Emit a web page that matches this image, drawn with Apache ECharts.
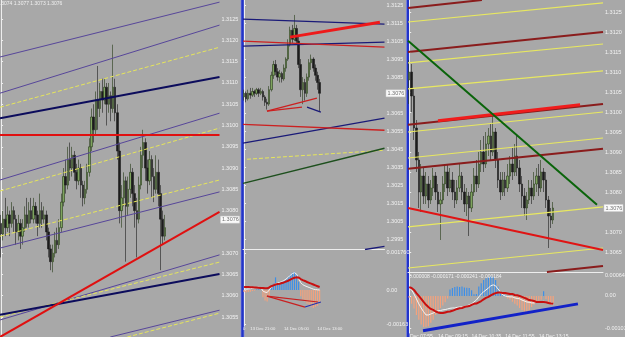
<!DOCTYPE html>
<html><head><meta charset="utf-8">
<script src="https://cdn.jsdelivr.net/npm/echarts@6/dist/echarts.min.js"></script>
<style>html,body{margin:0;padding:0;background:#a8a8a8;}#c{width:625px;height:337px;}</style>
</head><body><div id="c"></div>
<script>
// ---------- Panel 1 (left) ----------
const p1Header = '1.3074 1.3077 1.3073 1.3076';
const p1Candles = [ // [open, close, low, high]
[1.30770,1.30745,1.30690,1.30790],[1.30745,1.30780,1.30730,1.30800],[1.30780,1.30760,1.30740,1.30830],[1.30760,1.30790,1.30750,1.30810],
[1.30790,1.30770,1.30740,1.30800],[1.30770,1.30800,1.30760,1.30820],[1.30800,1.30780,1.30750,1.30810],[1.30780,1.30750,1.30720,1.30790],
[1.30750,1.30770,1.30730,1.30790],[1.30770,1.30740,1.30710,1.30780],[1.30740,1.30760,1.30720,1.30780],[1.30760,1.30790,1.30750,1.30810],
[1.30790,1.30770,1.30760,1.30830],[1.30770,1.30800,1.30760,1.30820],[1.30800,1.30780,1.30770,1.30830],[1.30780,1.30810,1.30770,1.30830],
[1.30810,1.30790,1.30770,1.30820],[1.30790,1.30770,1.30740,1.30800],[1.30770,1.30800,1.30760,1.30840],[1.30800,1.30780,1.30760,1.30820],
[1.30780,1.30790,1.30770,1.30810],[1.30790,1.30750,1.30730,1.30800],[1.30750,1.30710,1.30690,1.30760],[1.30710,1.30680,1.30660,1.30720],
[1.30680,1.30700,1.30655,1.30720],[1.30700,1.30730,1.30690,1.30750],[1.30730,1.30720,1.30700,1.30760],[1.30720,1.30760,1.30710,1.30780],
[1.30760,1.30820,1.30750,1.30840],[1.30820,1.30880,1.30810,1.30900],[1.30880,1.30860,1.30840,1.30920],[1.30860,1.30920,1.30850,1.30950],
[1.30920,1.30900,1.30870,1.30960],[1.30900,1.30930,1.30880,1.30950],[1.30930,1.30890,1.30870,1.30940],[1.30890,1.30870,1.30850,1.30910],
[1.30870,1.30900,1.30860,1.30920],[1.30900,1.30860,1.30830,1.30910],[1.30860,1.30830,1.30810,1.30870],[1.30830,1.30850,1.30815,1.30870],
[1.30850,1.30890,1.30840,1.30910],[1.30890,1.30950,1.30880,1.30970],[1.30950,1.31020,1.30940,1.31040],[1.31020,1.30990,1.30960,1.31050],
[1.30990,1.31060,1.30980,1.31080],[1.31060,1.31040,1.30990,1.31140],[1.31040,1.31080,1.31020,1.31100],[1.31080,1.31060,1.31030,1.31110],
[1.31060,1.31090,1.31050,1.31110],[1.31090,1.31050,1.31000,1.31100],[1.31050,1.31070,1.31030,1.31100],[1.31070,1.31040,1.31010,1.31080],
[1.31040,1.31090,1.31030,1.31190],[1.31090,1.31030,1.31010,1.31110],[1.31030,1.30940,1.30920,1.31050],[1.30940,1.30800,1.30770,1.30960],
[1.30800,1.30830,1.30760,1.30860],[1.30830,1.30870,1.30810,1.30890],[1.30870,1.30810,1.30680,1.30880],[1.30810,1.30850,1.30790,1.30880],
[1.30850,1.30890,1.30830,1.30910],[1.30890,1.30840,1.30810,1.30900],[1.30840,1.30800,1.30760,1.30860],[1.30800,1.30780,1.30690,1.30830],
[1.30780,1.30860,1.30770,1.30880],[1.30860,1.30930,1.30850,1.30950],[1.30930,1.30960,1.30900,1.30990],[1.30960,1.30900,1.30870,1.30970],
[1.30900,1.30870,1.30840,1.30920],[1.30870,1.30920,1.30860,1.30940],[1.30920,1.30880,1.30830,1.30930],[1.30880,1.30850,1.30820,1.30900],
[1.30850,1.30890,1.30840,1.30930],[1.30890,1.30840,1.30810,1.30920],[1.30840,1.30780,1.30660,1.30860],[1.30780,1.30740,1.30720,1.30800],
[1.30740,1.30760,1.30730,1.30790]];
const p1PriceTicks = [1.3125,1.3120,1.3115,1.3110,1.3105,1.3100,1.3095,1.3090,1.3085,1.3080,1.3070,1.3065,1.3060,1.3055];
const p1PurpleLines = [[-0.5,1.31161,101.4,1.31290],[-0.5,1.31076,101.4,1.31236],[-0.5,1.30872,101.4,1.31029],[-0.5,1.30712,101.4,1.30844],[-0.5,1.30543,101.4,1.30696],[50.7,1.30503,101.4,1.30566]];
const p1YellowLines = [[-0.5,1.31043,101.4,1.31184],[-0.5,1.30846,101.4,1.30994],[-0.5,1.30740,101.4,1.30872],[-0.5,1.30550,101.4,1.30679],[58.6,1.30503,101.4,1.30559]];
const p1NavyLines = [[-0.5,1.31017,101.4,1.31114],[-0.5,1.30555,101.4,1.30651]];
const p1RedLines = [[-0.5,1.30978,101.4,1.30978],[-0.5,1.30503,101.4,1.30797]];

// ---------- Panel 2 (middle) ----------
const p2Candles = [
[1.30740,1.30760,1.30720,1.30780],[1.30760,1.30730,1.30710,1.30770],[1.30730,1.30760,1.30720,1.30780],[1.30760,1.30750,1.30730,1.30790],
[1.30750,1.30770,1.30740,1.30790],[1.30770,1.30760,1.30740,1.30780],[1.30760,1.30780,1.30750,1.30790],[1.30780,1.30760,1.30740,1.30790],
[1.30760,1.30770,1.30750,1.30790],[1.30770,1.30740,1.30720,1.30780],[1.30740,1.30710,1.30690,1.30750],[1.30710,1.30700,1.30670,1.30730],
[1.30700,1.30780,1.30690,1.30800],[1.30780,1.30860,1.30770,1.30880],[1.30860,1.30920,1.30840,1.30940],[1.30920,1.30880,1.30860,1.30945],
[1.30880,1.30850,1.30830,1.30900],[1.30850,1.30870,1.30820,1.30890],[1.30870,1.30840,1.30820,1.30880],[1.30840,1.30900,1.30830,1.30920],
[1.30900,1.30950,1.30880,1.30960],[1.30950,1.31030,1.30940,1.31060],[1.31030,1.31110,1.31020,1.31130],[1.31110,1.31060,1.31040,1.31140],
[1.31060,1.31120,1.31050,1.31195],[1.31120,1.31050,1.31030,1.31140],[1.31050,1.30920,1.30900,1.31080],[1.30920,1.30780,1.30740,1.30950],
[1.30780,1.30820,1.30700,1.30850],[1.30820,1.30760,1.30720,1.30840],[1.30760,1.30850,1.30740,1.30870],[1.30850,1.30930,1.30830,1.30950],
[1.30930,1.30950,1.30890,1.30975],[1.30950,1.30900,1.30880,1.30960],[1.30900,1.30860,1.30830,1.30920],[1.30860,1.30820,1.30780,1.30880],
[1.30820,1.30760,1.30660,1.30840]];
const p2PriceTicks = [1.3125,1.3115,1.3105,1.3095,1.3085,1.3065,1.3055,1.3045,1.3035,1.3025,1.3015,1.3005,1.2995];
const p2NavyLines = [[-0.5,1.31172,66.9,1.31144],[-0.5,1.31022,66.9,1.31044],[30.0,1.30683,36.6,1.30655],[-0.5,1.30483,66.9,1.30622],[57.6,1.29893,66.9,1.29910]];
const p2RedLines = [[-0.5,1.31050,66.9,1.31016],[10.9,1.30661,34.7,1.30733],[10.9,1.30661,27.6,1.30683],[-0.5,1.30588,66.9,1.30555]];
const p2RedThickLines = [[21.9,1.31072,64.7,1.31155]];
const p2YellowLines = [[1.4,1.30394,66.9,1.30444]];
const p2GreenLines = [[-0.5,1.30260,66.9,1.30455]];
const p2Hist = [-0.00010,-0.00012,-0.00010,-0.00008,-0.00005,-0.00003,0.00002,0.00003,0.00001,-0.00035,-0.00050,-0.00055,-0.00030,0.00010,0.00030,0.00060,0.00035,0.00038,0.00042,0.00045,0.00050,0.00060,0.00072,0.00082,0.00086,0.00075,0.00040,-0.00030,-0.00045,-0.00055,-0.00065,-0.00070,-0.00080,-0.00086,-0.00080,-0.00075,-0.00060];
const p2Signal = [0.00014,0.00014,0.00014,0.00013,0.00013,0.00012,0.00012,0.00011,0.00010,0.00009,0.00008,0.00008,0.00012,0.00018,0.00022,0.00026,0.00028,0.00030,0.00033,0.00036,0.00040,0.00044,0.00049,0.00054,0.00058,0.00060,0.00059,0.00052,0.00047,0.00043,0.00038,0.00034,0.00030,0.00026,0.00022,0.00018,0.00014];
const p2Main = [0.00006,0.00004,0.00005,0.00006,0.00008,0.00009,0.00013,0.00014,0.00011,-0.00005,-0.00010,-0.00012,0.00000,0.00014,0.00022,0.00030,0.00033,0.00036,0.00040,0.00045,0.00052,0.00060,0.00070,0.00078,0.00082,0.00076,0.00055,0.00035,0.00025,0.00020,0.00016,0.00012,0.00008,0.00004,0.00002,0.00001,0.00000];
const p2MacdTicks = [0.00176, 0, -0.00163];
const p2MacdTickLabels = ['0.001760','0.00','-0.00163'];
const p2MacdRedLines = [[10.9,-0.00029,29.0,-0.00081],[10.9,-0.00029,35.2,-0.00057]];
const p2MacdNavyLines = [[29.0,-0.00081,36.6,-0.00057]];
const p2DateTicks = [-0.5, 3, 19, 35];
const p2DateLabels = ['0','13 Dec 21:00','14 Dec 05:00','14 Dec 13:00'];

// ---------- Panel 3 (right) ----------
const p3Candles = [
[1.31080,1.31100,1.31020,1.31130],[1.31100,1.31040,1.31000,1.31120],[1.31040,1.30960,1.30930,1.31060],[1.30960,1.30880,1.30850,1.30980],
[1.30880,1.30800,1.30760,1.30900],[1.30800,1.30840,1.30750,1.30870],[1.30840,1.30790,1.30770,1.30860],[1.30790,1.30820,1.30770,1.30850],
[1.30820,1.30780,1.30760,1.30840],[1.30780,1.30810,1.30770,1.30830],[1.30810,1.30840,1.30790,1.30860],[1.30840,1.30800,1.30780,1.30850],
[1.30800,1.30770,1.30750,1.30820],[1.30770,1.30780,1.30680,1.30800],[1.30780,1.30820,1.30770,1.30840],[1.30820,1.30850,1.30800,1.30870],
[1.30850,1.30810,1.30790,1.30870],[1.30810,1.30830,1.30800,1.30860],[1.30830,1.30800,1.30780,1.30850],[1.30800,1.30780,1.30760,1.30830],
[1.30780,1.30810,1.30770,1.30830],[1.30810,1.30840,1.30800,1.30870],[1.30840,1.30800,1.30780,1.30850],[1.30800,1.30770,1.30750,1.30820],
[1.30770,1.30790,1.30740,1.30810],[1.30790,1.30760,1.30690,1.30800],[1.30760,1.30800,1.30750,1.30820],[1.30800,1.30840,1.30790,1.30860],
[1.30840,1.30820,1.30800,1.30880],[1.30820,1.30870,1.30810,1.30900],[1.30870,1.30900,1.30850,1.30930],[1.30900,1.30870,1.30850,1.30940],
[1.30870,1.30920,1.30860,1.30950],[1.30920,1.30940,1.30890,1.30960],[1.30940,1.30900,1.30880,1.30970],[1.30900,1.30950,1.30890,1.30990],
[1.30950,1.30880,1.30860,1.30960],[1.30880,1.30830,1.30810,1.30900],[1.30830,1.30800,1.30780,1.30850],[1.30800,1.30830,1.30790,1.30850],
[1.30830,1.30810,1.30790,1.30850],[1.30810,1.30840,1.30800,1.30870],[1.30840,1.30870,1.30820,1.30890],[1.30870,1.30850,1.30830,1.30910],
[1.30850,1.30890,1.30840,1.30920],[1.30890,1.30860,1.30840,1.30940],[1.30860,1.30820,1.30800,1.30880],[1.30820,1.30790,1.30760,1.30840],
[1.30790,1.30760,1.30740,1.30810],[1.30760,1.30780,1.30730,1.30800],[1.30780,1.30810,1.30770,1.30830],[1.30810,1.30790,1.30770,1.30830],
[1.30790,1.30820,1.30780,1.30850],[1.30820,1.30840,1.30800,1.30860],[1.30840,1.30810,1.30790,1.30870],[1.30810,1.30850,1.30800,1.30880],
[1.30850,1.30830,1.30800,1.30860],[1.30830,1.30780,1.30760,1.30850],[1.30780,1.30740,1.30660,1.30790],[1.30740,1.30730,1.30710,1.30760],
[1.30730,1.30760,1.30720,1.30775]];
const p3PriceTicks = [1.3125,1.3120,1.3115,1.3110,1.3105,1.3100,1.3095,1.3090,1.3085,1.3080,1.3070,1.3065];
const p3DarkRedLines = [[-0.5,1.31260,30.3,1.31280],[-0.5,1.31150,80.75,1.31200],[-0.5,1.30968,80.75,1.31020],[-0.5,1.30858,80.75,1.30908],[57.4,1.30600,80.75,1.30615]];
const p3YellowLines = [[-0.5,1.31225,80.75,1.31273],[-0.5,1.31123,80.75,1.31170],[-0.5,1.31058,80.75,1.31103],[-0.5,1.30950,80.75,1.31000],[-0.5,1.30885,80.75,1.30935],[-0.5,1.30713,80.75,1.30763],[-0.5,1.30610,80.75,1.30660]];
const p3RedThickLines = [[12.0,1.30978,71.2,1.31018]];
const p3RedLines = [[-0.5,1.30760,80.75,1.30655]];
const p3GreenLines = [[-0.5,1.31178,78.25,1.30768]];
const p3Hist = [-0.00006,-0.00025,-0.00040,-0.00060,-0.00075,-0.00090,-0.00098,-0.00098,-0.00096,-0.00085,-0.00075,-0.00060,-0.00050,-0.00038,-0.00030,-0.00020,-0.00008,0.00020,0.00025,0.00028,0.00030,0.00028,0.00030,0.00027,0.00026,0.00025,0.00018,0.00005,0.00006,0.00030,0.00040,0.00050,0.00056,0.00060,0.00062,0.00060,0.00050,0.00030,0.00008,0.00005,0.00003,-0.00008,-0.00012,-0.00018,-0.00025,-0.00030,-0.00038,-0.00045,-0.00050,-0.00050,-0.00045,-0.00035,-0.00028,-0.00020,-0.00015,-0.00012,0.00015,-0.00010,-0.00020,-0.00025,-0.00022];
const p3Signal = [0.00028,0.00025,0.00019,0.00009,0.00000,-0.00009,-0.00019,-0.00028,-0.00035,-0.00041,-0.00044,-0.00049,-0.00052,-0.00054,-0.00054,-0.00052,-0.00050,-0.00049,-0.00047,-0.00044,-0.00041,-0.00039,-0.00038,-0.00035,-0.00033,-0.00032,-0.00028,-0.00025,-0.00024,-0.00020,-0.00016,-0.00011,-0.00006,-0.00003,0.00002,0.00006,0.00009,0.00011,0.00011,0.00009,0.00009,0.00008,0.00006,0.00006,0.00003,0.00002,0.00000,-0.00003,-0.00006,-0.00009,-0.00013,-0.00014,-0.00016,-0.00019,-0.00019,-0.00019,-0.00019,-0.00020,-0.00022,-0.00024,-0.00025];
const p3Main = [0.00025,0.00019,0.00006,-0.00009,-0.00025,-0.00038,-0.00050,-0.00060,-0.00060,-0.00057,-0.00054,-0.00050,-0.00047,-0.00046,-0.00044,-0.00043,-0.00041,-0.00039,-0.00038,-0.00038,-0.00036,-0.00035,-0.00035,-0.00033,-0.00032,-0.00028,-0.00025,-0.00019,-0.00013,-0.00003,0.00006,0.00013,0.00019,0.00025,0.00032,0.00035,0.00032,0.00022,0.00013,0.00003,0.00000,-0.00002,-0.00003,-0.00003,-0.00006,-0.00008,-0.00009,-0.00013,-0.00016,-0.00019,-0.00020,-0.00022,-0.00022,-0.00020,-0.00019,-0.00019,-0.00017,-0.00019,-0.00022,-0.00025,-0.00028];
const p3MacdTicks = [0.00064, 0, -0.00103];
const p3MacdTickLabels = ['0.000640','0.00','-0.00103'];
const p3MacdHeader = '0.000008 -0.000171 -0.000241 -0.000184';
const p3MacdBlueLines = [[5.75,-0.00110,70.3,-0.00025]];
const p3DateTicks = [0.3, 12, 26, 40, 54];
const p3DateLabels = ['Dec 07:55','14 Dec 09:15','14 Dec 10:35','14 Dec 11:55','14 Dec 13:15'];
const lastPrice = 1.3076;

// ---------- build ----------
const FONT = 'Liberation Sans';
const LBL = '#f2f2f2';
const chart = echarts.init(document.getElementById('c'), null, {renderer: 'canvas'});

function gridDef(l, t, w, h) { return {left: l, top: t, width: w, height: h, containLabel: false, outerBoundsMode: 'none', show: false}; }
function xAx(gi, max, lineShow, ticks, labels, fs) {
  return {type: 'value', gridIndex: gi, min: -0.5, max: max,
    axisLine: {show: lineShow, onZero: false, lineStyle: {color: '#eeeeee', width: 1}},
    axisTick: {show: false}, splitLine: {show: false},
    axisLabel: ticks ? {show: true, customValues: ticks, align: 'left', margin: 1, color: LBL, fontSize: fs, fontFamily: FONT,
      formatter: v => { const i = ticks.findIndex(t => Math.abs(t - v) < 1e-6); return i >= 0 ? labels[i] : ''; }} : {show: false}};
}
function yAx(gi, min, max, ticks, fmt) {
  return {type: 'value', gridIndex: gi, position: 'right', min: min, max: max,
    splitLine: {show: false},
    axisLine: {show: true, lineStyle: {color: '#eeeeee', width: 1}},
    axisTick: {show: true, length: 2, customValues: ticks, lineStyle: {color: '#eeeeee'}},
    axisLabel: {customValues: ticks, formatter: fmt, color: LBL, fontSize: 5.5, margin: 2, fontFamily: FONT}};
}
const priceFmt = v => v.toFixed(4);
const lookupFmt = (ticks, labels) => v => { const i = ticks.findIndex(t => Math.abs(t - v) < 1e-9); return i >= 0 ? labels[i] : ''; };

function candles(arr, ai, bw) {
  return {type: 'candlestick', xAxisIndex: ai, yAxisIndex: ai, barWidth: bw,
    dimensions: ['i', 'open', 'close', 'lowest', 'highest'], encode: {x: 0, y: [1, 2, 3, 4]},
    data: arr.map((d, i) => [i, d[0], d[1], d[2], d[3]]),
    itemStyle: {color: '#7ea45e', color0: '#1c1c1c', borderColor: '#263a18', borderColor0: '#1c1c1c', borderWidth: 0.6},
    silent: true, z: 2};
}
function segs(arr, ai, style) {
  return arr.map(s => ({type: 'line', xAxisIndex: ai, yAxisIndex: ai, data: [[s[0], s[1]], [s[2], s[3]]],
    symbol: 'none', silent: true, lineStyle: style, z: 5}));
}
function hist(arr, ai) {
  return {type: 'bar', xAxisIndex: ai, yAxisIndex: ai, barWidth: 1.2, silent: true,
    data: arr.map((v, i) => [i, v]),
    itemStyle: {color: p => p.value[1] >= 0 ? '#3d8fe8' : '#f5a27c'}, z: 2};
}
function mline(arr, ai, color, w) {
  return {type: 'line', xAxisIndex: ai, yAxisIndex: ai, data: arr.map((v, i) => [i, v]),
    symbol: 'none', silent: true, lineStyle: {color: color, width: w}, z: 4};
}

const purple = {color: '#57469a', width: 1};
const yellowDash = {color: '#e6e65a', width: 1, type: [4, 2]};
const navy = {color: '#0c0c5c', width: 2};
const red2 = {color: '#e01010', width: 2};

const series = [].concat(
  candles(p1Candles, 0, 2),
  segs(p1PurpleLines, 0, purple), segs(p1YellowLines, 0, yellowDash), segs(p1NavyLines, 0, navy), segs(p1RedLines, 0, red2),
  candles(p2Candles, 1, 2),
  segs(p2NavyLines, 1, {color: '#1a1a78', width: 1.3}), segs(p2RedLines, 1, {color: '#cc2020', width: 1.3}),
  segs(p2RedThickLines, 1, {color: '#ee1a1a', width: 3}), segs(p2YellowLines, 1, yellowDash),
  segs(p2GreenLines, 1, {color: '#1d4f1d', width: 1.5}),
  hist(p2Hist, 2), mline(p2Main, 2, '#f4f4f4', 1), mline(p2Signal, 2, '#c81010', 2),
  segs(p2MacdRedLines, 2, {color: '#c82020', width: 1.2}), segs(p2MacdNavyLines, 2, {color: '#2030b0', width: 1.2}),
  candles(p3Candles, 3, 2),
  segs(p3YellowLines, 3, {color: '#e8e860', width: 1.2}), segs(p3DarkRedLines, 3, {color: '#8a1c1c', width: 2}),
  segs(p3RedThickLines, 3, {color: '#f01c1c', width: 3}), segs(p3RedLines, 3, {color: '#e01414', width: 2}),
  segs(p3GreenLines, 3, {color: '#0a640a', width: 2}),
  hist(p3Hist, 4), mline(p3Main, 4, '#f4f4f4', 1), mline(p3Signal, 4, '#c81010', 2),
  segs(p3MacdBlueLines, 4, {color: '#1222c8', width: 3})
);

chart.setOption({
  animation: false,
  backgroundColor: '#a8a8a8',
  grid: [gridDef(0, 0, 219.5, 337), gridDef(243, 0, 141.5, 249.5), gridDef(243, 250, 141.5, 76), gridDef(408, 0, 195, 272), gridDef(408, 272, 195, 61)],
  xAxis: [xAx(0, 101.4, false), xAx(1, 66.9, true), xAx(2, 66.9, false, p2DateTicks, p2DateLabels, 4.2),
          xAx(3, 80.75, true), xAx(4, 80.75, false, p3DateTicks, p3DateLabels, 5)],
  yAxis: [yAx(0, 1.30503, 1.31295, p1PriceTicks, priceFmt), yAx(1, 1.29893, 1.31278, p2PriceTicks, priceFmt),
          yAx(2, -0.00171, 0.00190, p2MacdTicks, lookupFmt(p2MacdTicks, p2MacdTickLabels)),
          yAx(3, 1.3060, 1.3128, p3PriceTicks, priceFmt),
          yAx(4, -0.00117, 0.000756, p3MacdTicks, lookupFmt(p3MacdTicks, p3MacdTickLabels))],
  series: series
});

function priceBox(x, y) {
  return {type: 'group', z: 100, children: [
    {type: 'rect', shape: {x: x, y: y - 3.5, width: 19, height: 7}, style: {fill: '#fafafa', stroke: '#d0d0d0', lineWidth: 0.5}},
    {type: 'text', x: x + 1.5, y: y, style: {text: lastPrice.toFixed(4), fill: '#707070', fontSize: 5.5, fontFamily: FONT, verticalAlign: 'middle'}}
  ]};
}
function separator(x) {
  return {type: 'group', z: 100, children: [
    {type: 'rect', shape: {x: x - 0.5, y: 0, width: 4, height: 337}, style: {fill: '#8a92dc'}},
    {type: 'rect', shape: {x: x + 0.3, y: 0, width: 2.4, height: 337}, style: {fill: '#2234c8'}}
  ]};
}
const yb1 = chart.convertToPixel({yAxisIndex: 0}, lastPrice) - 8;
const yb2 = chart.convertToPixel({yAxisIndex: 1}, lastPrice);
const yb3 = chart.convertToPixel({yAxisIndex: 3}, lastPrice);
chart.setOption({graphic: [
  separator(241), separator(406.5),
  priceBox(220.5, yb1), priceBox(386, yb2), priceBox(604, yb3),
  {type: 'text', z: 100, x: -3, y: 1, style: {text: p1Header, fill: '#f0f0f0', fontSize: 5, fontFamily: FONT}},
  {type: 'text', z: 100, x: 409, y: 274.5, style: {text: p3MacdHeader, fill: '#f0f0f0', fontSize: 5, fontFamily: FONT}}
]});
</script></body></html>
